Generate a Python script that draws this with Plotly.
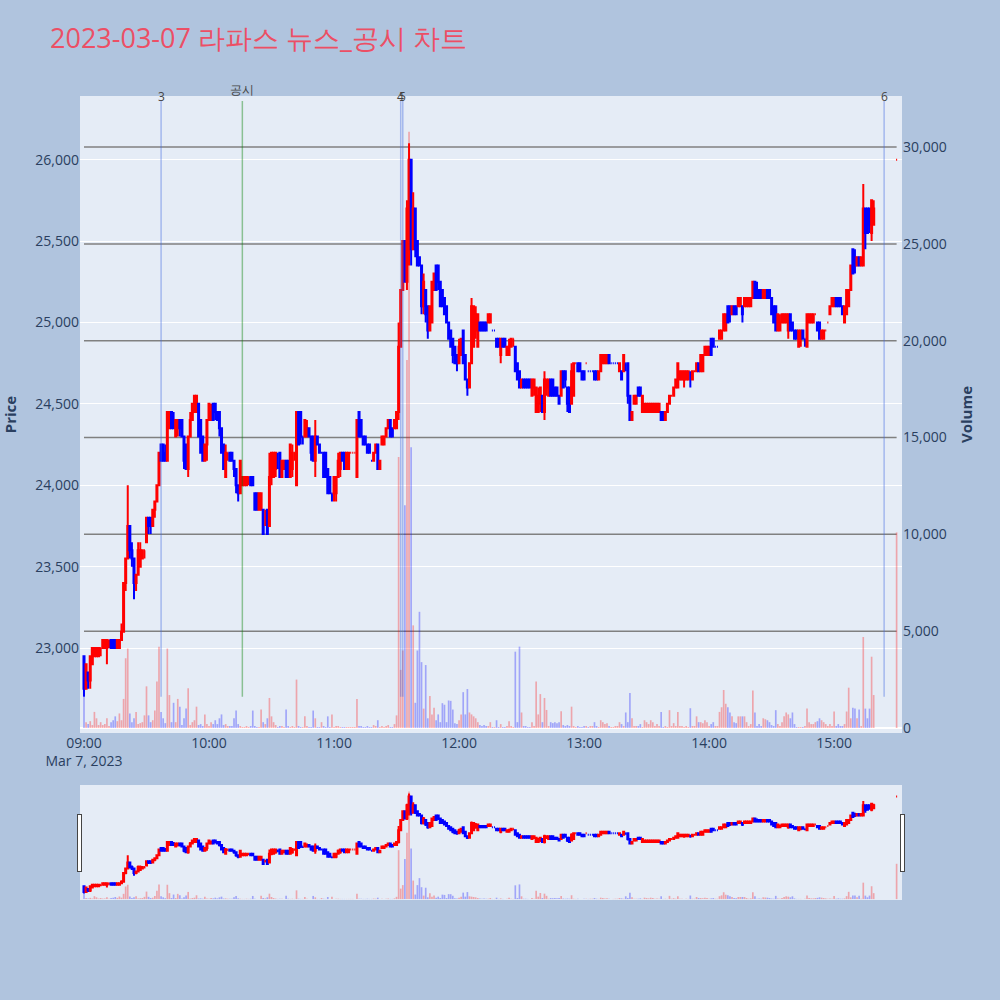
import pandas as pd
import plotly.graph_objects as go
from plotly.subplots import make_subplots

# ---------------- data (1-minute candles, 2023-03-07) ----------------
times = [t.strftime('%Y-%m-%d %H:%M') for t in pd.date_range('2023-03-07 09:00', periods=380, freq='min')]
times.append('2023-03-07 15:30')

opens = [
    22950, 22750, 22850, 22800, 22900, 22950, 22950, 22950, 23000, 23000,
    23000, 23000, 23050, 23050, 23050, 23050, 23000, 23000, 23050, 23100,
    23400, 23550, 23750, 23600, 23550, 23400, 23450, 23500, 23550, 23600,
    23650, 23800, 23800, 23750, 23850, 23900, 24000, 24250, 24250, 24200,
    24150, 24350, 24450, 24400, 24300, 24350, 24400, 24400, 24300, 24250,
    24100, 24300, 24400, 24450, 24450, 24500, 24400, 24300, 24150, 24250,
    24400, 24400, 24500, 24500, 24450, 24450, 24350, 24250, 24050, 24200,
    24200, 24200, 24150, 24100, 24000, 23950, 24000, 24000, 24000, 24050,
    24050, 24050, 23950, 23950, 23850, 23850, 23850, 23800, 23850, 23750,
    24050, 24050, 24100, 24150, 24200, 24050, 24100, 24150, 24150, 24050,
    24100, 24200, 24000, 24450, 24450, 24300, 24300, 24300, 24350, 24300,
    24300, 24150, 24300, 24250, 24200, 24200, 24200, 24100, 24050, 23950,
    23950, 23950, 24050, 24100, 24200, 24200, 24100, 24100, 24200, 24200,
    24200, 24050, 24450, 24400, 24300, 24300, 24250, 24250, 24150, 24150,
    24200, 24250, 24100, 24250, 24250, 24300, 24350, 24400, 24350, 24350,
    24350, 24450, 24850, 25200, 25500, 25250, 25700, 26000, 25450, 25700,
    25500, 25400, 25350, 25100, 25200, 25100, 24950, 25000, 25200, 25350,
    25350, 25250, 25200, 25150, 25100, 25000, 24950, 24900, 24850, 24800,
    24750, 24800, 24950, 24800, 24650, 24600, 24750, 24850, 24950, 24850,
    25000, 25000, 25000, 25000, 25000, 25000, 24950, 24950, 24900, 24900,
    24800, 24900, 24900, 24800, 24800, 24850, 24900, 24850, 24750, 24700,
    24600, 24650, 24650, 24650, 24650, 24550, 24600, 24450, 24450, 24500,
    24550, 24450, 24600, 24550, 24650, 24650, 24600, 24600, 24550, 24550,
    24700, 24700, 24600, 24600, 24500, 24550, 24750, 24750, 24750, 24700,
    24700, 24750, 24700, 24700, 24700, 24700, 24700, 24650, 24700, 24750,
    24750, 24750, 24800, 24750, 24750, 24750, 24750, 24700, 24700, 24700,
    24750, 24750, 24550, 24400, 24500, 24500, 24600, 24600, 24450, 24450,
    24450, 24450, 24450, 24450, 24450, 24450, 24450, 24450, 24450, 24400,
    24450, 24500, 24550, 24550, 24600, 24600, 24650, 24650, 24650, 24650,
    24650, 24650, 24650, 24700, 24700, 24750, 24700, 24700, 24800, 24800,
    24800, 24900, 24900, 24850, 24850, 24900, 24900, 24950, 24950, 25100,
    25100, 25050, 25100, 25100, 25100, 25100, 25100, 25100, 25100, 25100,
    25100, 25150, 25250, 25200, 25200, 25200, 25150, 25150, 25200, 25200,
    25150, 25100, 25100, 24950, 24950, 25000, 25000, 25000, 24950, 25050,
    25000, 24950, 24950, 24850, 24900, 24950, 24900, 24850, 25000, 25000,
    25000, 25050, 25000, 25000, 24900, 24900, 24950, 25000, 25050, 25100,
    25100, 25150, 25150, 25150, 25100, 25000, 25050, 25100, 25200, 25450,
    25400, 25350, 25400, 25350, 25350, 25700, 25700, 25700, 25550, 25600,
    26000,
]

highs = [
    22950, 22900, 22850, 22950, 23000, 23000, 23000, 23000, 23000, 23050,
    23050, 23050, 23050, 23050, 23050, 23050, 23050, 23050, 23150, 23400,
    23550, 24000, 23750, 23650, 23550, 23450, 23650, 23650, 23600, 23600,
    23800, 23800, 23800, 23850, 23900, 24000, 24200, 24250, 24250, 24250,
    24450, 24450, 24450, 24450, 24400, 24400, 24400, 24400, 24300, 24250,
    24300, 24450, 24500, 24550, 24550, 24500, 24400, 24300, 24250, 24400,
    24500, 24500, 24500, 24500, 24450, 24450, 24350, 24250, 24250, 24200,
    24200, 24200, 24150, 24100, 24000, 24150, 24050, 24050, 24050, 24050,
    24050, 24050, 23950, 23950, 23950, 23950, 23850, 23850, 23850, 24200,
    24200, 24200, 24200, 24200, 24200, 24150, 24150, 24150, 24150, 24250,
    24250, 24200, 24450, 24450, 24450, 24300, 24400, 24400, 24350, 24300,
    24300, 24400, 24300, 24250, 24200, 24200, 24200, 24100, 24050, 23950,
    24050, 24050, 24200, 24200, 24200, 24200, 24200, 24200, 24200, 24200,
    24200, 24400, 24450, 24400, 24300, 24300, 24250, 24250, 24150, 24200,
    24250, 24250, 24150, 24300, 24300, 24350, 24400, 24400, 24350, 24400,
    24450, 25000, 25200, 25500, 25500, 25750, 26100, 26000, 25800, 25700,
    25500, 25400, 25350, 25300, 25200, 25100, 25100, 25250, 25300, 25350,
    25350, 25250, 25200, 25150, 25100, 25000, 24950, 24900, 24850, 24800,
    24900, 24900, 24950, 24800, 24650, 24750, 25150, 25100, 25100, 25050,
    25000, 25000, 25000, 25000, 25050, 25050, 24950, 24950, 24900, 24900,
    24900, 24900, 24900, 24850, 24900, 24900, 24900, 24850, 24750, 24700,
    24650, 24650, 24650, 24650, 24650, 24650, 24650, 24600, 24600, 24600,
    24550, 24700, 24650, 24650, 24650, 24650, 24600, 24600, 24550, 24700,
    24700, 24700, 24600, 24600, 24750, 24750, 24750, 24750, 24750, 24700,
    24700, 24750, 24700, 24700, 24700, 24700, 24700, 24700, 24800, 24800,
    24800, 24800, 24800, 24750, 24750, 24750, 24750, 24750, 24700, 24800,
    24750, 24750, 24550, 24450, 24550, 24550, 24600, 24600, 24550, 24500,
    24500, 24500, 24500, 24500, 24500, 24500, 24500, 24450, 24450, 24450,
    24500, 24550, 24550, 24600, 24650, 24750, 24700, 24700, 24700, 24700,
    24700, 24700, 24700, 24700, 24750, 24750, 24800, 24800, 24850, 24850,
    24850, 24900, 24900, 24850, 24850, 24950, 24950, 25050, 25050, 25100,
    25100, 25100, 25100, 25100, 25150, 25150, 25100, 25150, 25150, 25150,
    25150, 25250, 25250, 25250, 25200, 25200, 25200, 25200, 25200, 25200,
    25150, 25100, 25100, 25050, 25050, 25050, 25050, 25050, 25050, 25050,
    25000, 24950, 24950, 24950, 24950, 24950, 24900, 25050, 25050, 25050,
    25050, 25050, 25000, 25000, 24950, 24950, 24950, 25000, 25100, 25150,
    25150, 25150, 25150, 25150, 25100, 25100, 25200, 25200, 25350, 25450,
    25450, 25400, 25400, 25400, 25850, 25700, 25700, 25700, 25750, 25750,
    26000,
]

lows = [
    22700, 22750, 22750, 22750, 22900, 22950, 22950, 22950, 22950, 23000,
    23000, 22900, 23000, 23000, 23000, 23000, 23000, 23000, 23050, 23100,
    23350, 23550, 23550, 23500, 23300, 23350, 23450, 23500, 23550, 23550,
    23650, 23700, 23700, 23750, 23800, 23900, 24000, 24150, 24150, 24150,
    24150, 24350, 24350, 24350, 24300, 24300, 24300, 24300, 24100, 24100,
    24050, 24300, 24400, 24450, 24450, 24300, 24200, 24150, 24150, 24150,
    24400, 24400, 24400, 24400, 24400, 24300, 24200, 24100, 24050, 24150,
    24150, 24150, 24050, 23950, 23900, 23950, 24000, 24000, 24000, 24000,
    24000, 24000, 23850, 23850, 23850, 23850, 23700, 23750, 23700, 23750,
    24000, 24050, 24050, 24100, 24050, 24050, 24100, 24050, 24050, 24050,
    24050, 24150, 24000, 24250, 24250, 24250, 24300, 24300, 24300, 24150,
    24150, 24050, 24250, 24200, 24200, 24050, 24050, 23950, 23950, 23900,
    23900, 23900, 24050, 24050, 24150, 24100, 24100, 24100, 24200, 24200,
    24200, 24050, 24300, 24300, 24250, 24250, 24200, 24200, 24150, 24150,
    24200, 24100, 24100, 24250, 24250, 24300, 24350, 24300, 24300, 24350,
    24350, 24400, 24850, 25200, 25250, 25200, 25350, 25350, 25450, 25400,
    25350, 25350, 25050, 25050, 25000, 24900, 24950, 25000, 25200, 25200,
    25200, 25100, 25100, 25050, 25000, 24900, 24850, 24750, 24750, 24700,
    24750, 24800, 24750, 24650, 24550, 24600, 24750, 24850, 24900, 24850,
    24950, 24950, 24950, 24950, 25000, 25000, 24950, 24950, 24850, 24850,
    24750, 24850, 24850, 24800, 24800, 24850, 24850, 24700, 24650, 24600,
    24600, 24600, 24600, 24600, 24600, 24550, 24550, 24450, 24450, 24450,
    24450, 24400, 24550, 24550, 24550, 24550, 24550, 24550, 24500, 24550,
    24600, 24600, 24450, 24450, 24500, 24550, 24750, 24700, 24700, 24650,
    24650, 24750, 24700, 24700, 24700, 24650, 24650, 24650, 24700, 24750,
    24750, 24750, 24750, 24750, 24750, 24750, 24750, 24700, 24650, 24700,
    24700, 24500, 24400, 24400, 24500, 24500, 24550, 24550, 24450, 24450,
    24450, 24450, 24450, 24450, 24450, 24450, 24450, 24400, 24400, 24400,
    24450, 24500, 24550, 24550, 24600, 24600, 24650, 24650, 24600, 24650,
    24650, 24600, 24650, 24700, 24700, 24700, 24700, 24700, 24800, 24800,
    24800, 24800, 24850, 24850, 24850, 24900, 24900, 24950, 24950, 25000,
    25000, 25050, 25050, 25050, 25100, 25100, 25000, 25100, 25100, 25100,
    25100, 25150, 25150, 25150, 25150, 25150, 25150, 25150, 25150, 25150,
    25050, 25000, 24950, 24950, 24950, 25000, 25000, 25000, 24900, 24950,
    24950, 24900, 24900, 24850, 24850, 24900, 24850, 24850, 25000, 25000,
    25000, 25050, 24950, 24900, 24900, 24900, 24950, 25000, 25050, 25100,
    25100, 25100, 25100, 25100, 25050, 25000, 25050, 25100, 25200, 25300,
    25300, 25350, 25350, 25350, 25350, 25450, 25550, 25550, 25500, 25600,
    26000,
]

closes = [
    22750, 22900, 22800, 22950, 23000, 23000, 23000, 23000, 23000, 23050,
    23050, 23050, 23050, 23000, 23000, 23000, 23050, 23050, 23100, 23400,
    23550, 23750, 23600, 23550, 23400, 23450, 23600, 23600, 23600, 23600,
    23800, 23750, 23750, 23850, 23900, 24000, 24200, 24150, 24150, 24150,
    24450, 24450, 24350, 24350, 24400, 24400, 24350, 24300, 24150, 24100,
    24300, 24400, 24500, 24550, 24550, 24300, 24200, 24150, 24250, 24400,
    24500, 24450, 24400, 24450, 24400, 24350, 24200, 24100, 24200, 24200,
    24150, 24150, 24100, 24000, 23950, 24150, 24050, 24050, 24050, 24050,
    24000, 24000, 23850, 23850, 23950, 23950, 23700, 23800, 23700, 24050,
    24200, 24200, 24200, 24150, 24050, 24150, 24150, 24050, 24050, 24250,
    24200, 24200, 24450, 24250, 24300, 24300, 24400, 24350, 24300, 24200,
    24150, 24300, 24250, 24200, 24200, 24050, 24050, 23950, 23950, 23950,
    24050, 24050, 24150, 24200, 24150, 24100, 24200, 24200, 24200, 24200,
    24200, 24400, 24300, 24300, 24250, 24250, 24200, 24200, 24150, 24200,
    24250, 24100, 24150, 24300, 24300, 24350, 24400, 24300, 24300, 24400,
    24450, 24850, 25200, 25500, 25250, 25700, 26000, 25450, 25700, 25450,
    25350, 25350, 25100, 25250, 25050, 24950, 25100, 25250, 25300, 25200,
    25250, 25100, 25100, 25050, 25000, 24900, 24850, 24800, 24750, 24750,
    24850, 24900, 24750, 24650, 24600, 24750, 25100, 25100, 25050, 25050,
    24950, 24950, 24950, 24950, 25050, 25050, 24950, 24950, 24850, 24850,
    24900, 24850, 24850, 24850, 24850, 24900, 24900, 24700, 24650, 24600,
    24650, 24600, 24600, 24600, 24600, 24650, 24650, 24600, 24550, 24600,
    24450, 24650, 24650, 24650, 24550, 24550, 24550, 24550, 24500, 24700,
    24600, 24650, 24500, 24450, 24700, 24750, 24750, 24700, 24700, 24650,
    24650, 24750, 24700, 24700, 24700, 24650, 24650, 24700, 24800, 24800,
    24800, 24800, 24750, 24750, 24750, 24750, 24750, 24750, 24650, 24800,
    24750, 24550, 24400, 24450, 24550, 24550, 24550, 24550, 24550, 24500,
    24500, 24500, 24500, 24500, 24500, 24500, 24500, 24400, 24400, 24450,
    24500, 24550, 24550, 24600, 24650, 24750, 24700, 24700, 24700, 24700,
    24700, 24650, 24700, 24700, 24750, 24700, 24800, 24800, 24850, 24850,
    24850, 24800, 24850, 24850, 24850, 24950, 24950, 25050, 25050, 25000,
    25050, 25100, 25050, 25050, 25150, 25150, 25050, 25150, 25150, 25150,
    25150, 25250, 25150, 25150, 25150, 25150, 25200, 25200, 25150, 25150,
    25050, 25000, 24950, 25050, 25000, 25050, 25050, 25050, 25050, 24950,
    24950, 24900, 24900, 24950, 24950, 24900, 24900, 25050, 25050, 25050,
    25050, 25050, 24950, 24900, 24950, 24950, 24950, 25000, 25100, 25150,
    25150, 25100, 25100, 25100, 25050, 25100, 25200, 25200, 25350, 25300,
    25350, 25400, 25350, 25400, 25700, 25550, 25550, 25600, 25750, 25700,
    26000,
]

volumes = [
    1600, 300, 200, 350, 150, 830, 500, 150, 300, 150,
    200, 500, 100, 300, 400, 600, 350, 750, 400, 1500,
    3600, 4100, 750, 300, 500, 830, 200, 250, 300, 650,
    2150, 650, 300, 400, 900, 2400, 4200, 830, 500, 250,
    4100, 1700, 300, 1300, 300, 1500, 1100, 150, 500, 1000,
    2050, 150, 300, 400, 1100, 150, 200, 100, 700, 200,
    100, 300, 200, 400, 200, 500, 700, 150, 200, 100,
    100, 100, 500, 900, 200, 100, 50, 50, 100, 50,
    100, 900, 100, 50, 50, 950, 300, 200, 500, 1550,
    600, 300, 150, 50, 100, 100, 50, 950, 100, 50,
    100, 50, 2500, 100, 50, 50, 600, 100, 50, 50,
    900, 500, 50, 50, 300, 100, 50, 600, 50, 700,
    50, 100, 100, 50, 50, 50, 50, 50, 50, 50,
    50, 1500, 100, 100, 50, 50, 100, 50, 50, 150,
    100, 400, 50, 100, 50, 100, 150, 50, 50, 200,
    650, 14000, 3000, 4000, 11500, 19000, 30800, 14500, 5300, 1300,
    4000, 6000, 3400, 1000, 3250, 500, 1650, 700, 1050, 400,
    700, 300, 1280, 1200, 300, 1420, 1400, 950, 250, 200,
    400, 700, 1850, 700, 2010, 800, 700, 600, 500, 300,
    150, 100, 150, 100, 100, 300, 50, 50, 400, 50,
    200, 50, 50, 100, 350, 100, 50, 3940, 300, 4200,
    800, 100, 100, 50, 50, 300, 100, 2400, 700, 1750,
    300, 1550, 930, 100, 300, 250, 300, 250, 300, 860,
    150, 100, 150, 100, 1100, 100, 50, 100, 50, 50,
    100, 100, 50, 100, 100, 300, 100, 50, 400, 300,
    200, 250, 100, 50, 50, 100, 100, 300, 200, 100,
    800, 300, 1800, 500, 100, 100, 100, 200, 50, 400,
    300, 200, 400, 300, 100, 200, 100, 820, 50, 100,
    50, 920, 100, 250, 100, 820, 100, 100, 50, 100,
    50, 1020, 100, 100, 600, 300, 300, 250, 400, 300,
    100, 200, 300, 100, 100, 830, 1070, 1960, 1250, 1070,
    800, 600, 300, 250, 600, 600, 600, 600, 300, 100,
    200, 1930, 800, 100, 200, 100, 500, 450, 400, 300,
    150, 100, 920, 200, 100, 300, 600, 800, 700, 500,
    800, 200, 50, 50, 50, 50, 100, 1000, 300, 200,
    200, 300, 350, 500, 400, 300, 200, 100, 200, 100,
    850, 100, 200, 100, 100, 200, 850, 2080, 500, 1050,
    1000, 500, 950, 100, 4700, 1000, 500, 1000, 3680, 1700,
    10100,
]

price_ticks = [23000, 23500, 24000, 24500, 25000, 25500, 26000]
volume_levels = [5000, 10000, 15000, 20000, 25000, 30000]

# news / disclosure markers
news_times = ['2023-03-07 09:37', '2023-03-07 10:16', '2023-03-07 11:32', '2023-03-07 11:33', '2023-03-07 15:24']
news_labels = ['3', '공시', '4', '5', '6']
news_colors = ['rgba(65,105,225,0.4)', 'rgba(0,128,0,0.4)', 'rgba(65,105,225,0.4)',
               'rgba(65,105,225,0.4)', 'rgba(65,105,225,0.4)']
news_shift = [-6, 1, -6, -6, -6]

# ---------------- figure ----------------
vol_colors = []
for i in range(len(closes)):
    prev = closes[i - 1] if i > 0 else opens[i]
    up = closes[i] > opens[i] or (closes[i] == opens[i] and closes[i] >= prev)
    vol_colors.append('rgba(255,0,0,0.3)' if up else 'rgba(0,0,255,0.3)')

fig = make_subplots(specs=[[{"secondary_y": True}]])

fig.add_trace(go.Candlestick(
    x=times, open=opens, high=highs, low=lows, close=closes,
    increasing=dict(line=dict(color='red'), fillcolor='red'),
    decreasing=dict(line=dict(color='blue'), fillcolor='blue'),
    showlegend=False, name='Price'), secondary_y=False)

fig.add_trace(go.Bar(
    x=times, y=volumes, marker=dict(color=vol_colors, line=dict(width=0)),
    showlegend=False, name='Volume'), secondary_y=True)

# grey volume level lines spanning the trading session
for lv in volume_levels:
    fig.add_shape(type='line', xref='x', yref='y2', x0=times[0], x1=times[-1], y0=lv, y1=lv,
                  line=dict(color='rgb(128,128,128)', width=1.5), layer='below')

y_top = max(highs) * 1.01
y_bot = min(lows)
for t, lab, col, sh in zip(news_times, news_labels, news_colors, news_shift):
    fig.add_shape(type='line', xref='x', yref='y', x0=t, x1=t, y0=y_bot, y1=y_top,
                  line=dict(color=col, width=1.5))
    fig.add_annotation(x=t, y=y_top, xref='x', yref='y', text=lab, showarrow=False,
                       yanchor='bottom', yshift=sh, font=dict(size=12, color='#444'))

fig.update_layout(
    width=1000, height=1000,
    margin=dict(l=80, r=98, t=96, b=100),
    paper_bgcolor='lightsteelblue',
    title=dict(text='2023-03-07 라파스 뉴스_공시 차트', font=dict(size=27, color='rgb(236,79,101)')),
    showlegend=False,
    xaxis=dict(domain=[0, 1], rangeslider=dict(visible=True, thickness=0.143), dtick=3600000,
               tickfont=dict(size=14),
               range=['2023-03-07 08:58:05', '2023-03-07 15:32:35']),
)
fig.update_yaxes(title_text='<b>Price</b>', range=[22478, 26391], tickvals=price_ticks,
                 tickformat=',', tickfont=dict(size=14), title_font=dict(size=15),
                 automargin=False, secondary_y=False)
fig.update_yaxes(title_text='<b>Volume</b>', range=[-260, 32640], tickformat=',',
                 tickfont=dict(size=14), title_font=dict(size=15), showgrid=False,
                 automargin=False, secondary_y=True)

fig.write_html('out.html', post_script="document.body.style.margin='0';",
               config={'displayModeBar': False})
